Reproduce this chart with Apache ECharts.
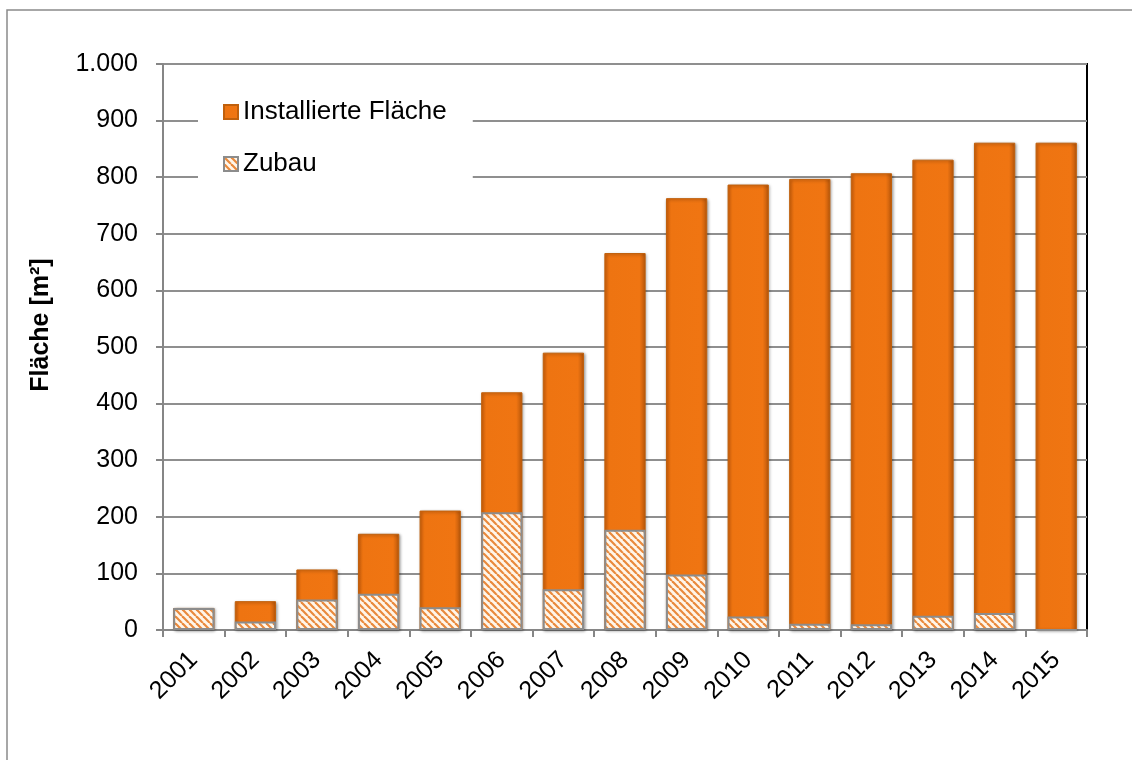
<!DOCTYPE html>
<html>
<head>
<meta charset="utf-8">
<script src="https://cdn.jsdelivr.net/npm/echarts@6/dist/echarts.min.js"></script>
<style>
html,body{margin:0;padding:0;background:#fff;}
#chart{width:1132px;height:760px;}
</style>
</head>
<body>
<div id="chart"></div>
<script>
const years = ['2001','2002','2003','2004','2005','2006','2007','2008','2009','2010','2011','2012','2013','2014','2015'];
const installiert = [39, 51, 107, 170, 211, 420, 490, 666, 763, 787, 797, 807, 831, 861, 861];
const zubau = [39, 15, 54, 64, 40, 208, 72, 177, 98, 24, 11, 10, 25, 30, 0];
const yTicks = {0:'0',100:'100',200:'200',300:'300',400:'400',500:'500',600:'600',700:'700',800:'800',900:'900',1000:'1.000'};
const yName = 'Fläche [m²]';

function hatch(){
  const c = document.createElement('canvas');
  c.width = 7; c.height = 7;
  const g = c.getContext('2d');
  g.fillStyle = '#FFF6EA';
  g.fillRect(0,0,7,7);
  g.strokeStyle = '#E9893C';
  g.lineWidth = 2.2;
  for (let k=-7; k<=14; k+=7){
    g.beginPath(); g.moveTo(k,0); g.lineTo(k+7,7); g.stroke();
  }
  return c;
}

const FONT = 'Liberation Sans, Arial, sans-serif';
const chart = echarts.init(document.getElementById('chart'));
const orange = new echarts.graphic.LinearGradient(0,0,1,0,[
  {offset:0, color:'#D9650C'},
  {offset:0.12, color:'#EE7411'},
  {offset:0.85, color:'#F07512'},
  {offset:1, color:'#B7560A'}
]);
chart.setOption({
  animation:false,
  textStyle:{fontFamily:FONT},
  graphic:[
    {type:'rect', shape:{x:7,y:10,width:1200,height:800}, style:{fill:'none', stroke:'#8a8a8a', lineWidth:1.5}, silent:true},
    {type:'text', x:41, y:325, rotation:Math.PI/2, style:{text:yName, font:'bold 25px Liberation Sans, Arial, sans-serif', fill:'#000', textAlign:'center', textVerticalAlign:'middle'}, silent:true}
  ],
  grid:{left:163, top:64, right:45, bottom:130, show:true, borderColor:'#000', borderWidth:2},
  legend:{
    orient:'vertical', left:198, top:90,
    backgroundColor:'#fff',
    padding:[9, 26, 10, 25],
    itemWidth:14, itemHeight:14, itemGap:26, icon:'rect',
    textStyle:{fontSize:26, lineHeight:26, color:'#000', fontFamily:FONT},
    data:['Installierte Fläche','Zubau']
  },
  xAxis:{
    type:'category', data:years,
    axisLine:{lineStyle:{color:'#868686', width:2}},
    axisTick:{show:true, length:7, alignWithLabel:false, lineStyle:{color:'#868686', width:2}},
    axisLabel:{rotate:45, fontSize:25, color:'#000', margin:26, fontFamily:FONT}
  },
  yAxis:{
    type:'value', min:0, max:1000, interval:100,
    axisLine:{show:true, lineStyle:{color:'#868686', width:2}},
    axisTick:{show:true, length:7, lineStyle:{color:'#868686', width:2}},
    splitLine:{lineStyle:{color:'#8f8f8f', width:2}},
    axisLabel:{fontSize:25, color:'#000', margin:25, fontFamily:FONT, formatter:v=>yTicks[v]}
  },
  series:[
    {name:'Installierte Fläche', type:'bar', data:installiert, barWidth:'67%', barGap:'-100%',
     itemStyle:{color:orange, borderColor:'#C0600C', borderWidth:1, shadowColor:'rgba(0,0,0,0.35)', shadowBlur:3, shadowOffsetX:1, shadowOffsetY:1}},
    {name:'Zubau', type:'bar', data:zubau, barWidth:'67%',
     itemStyle:{color:{image:hatch(), repeat:'repeat'}, borderColor:'#8c8c8c', borderWidth:2}}
  ]
});
</script>
</body>
</html>
